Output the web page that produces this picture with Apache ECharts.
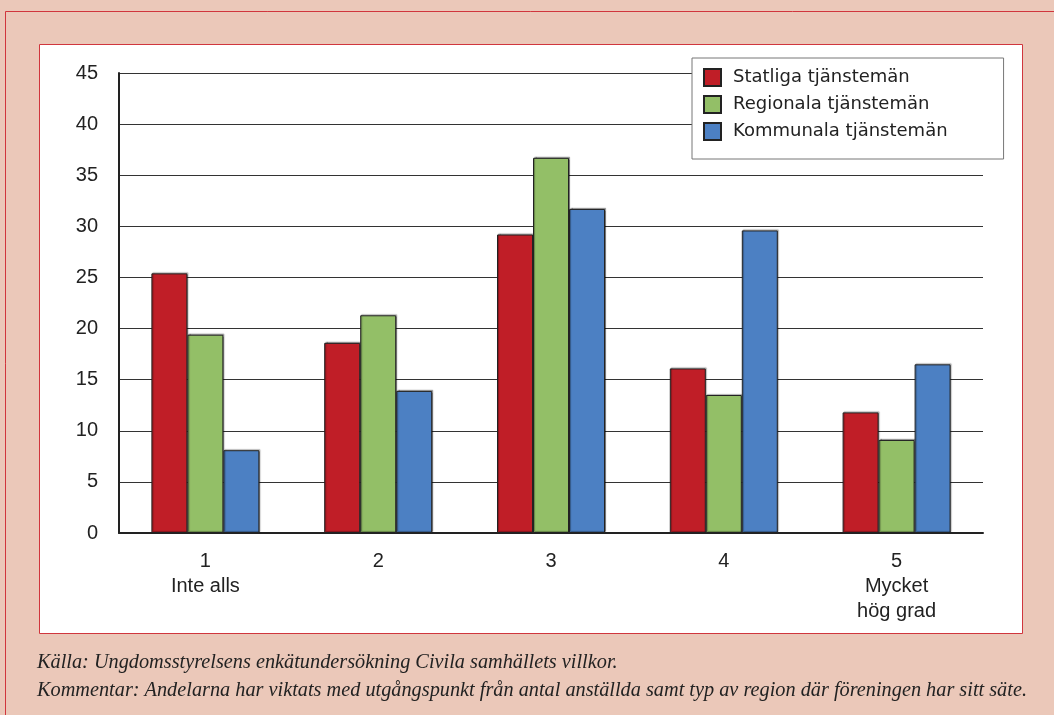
<!DOCTYPE html>
<html><head><meta charset="utf-8">
<script src="https://cdn.jsdelivr.net/npm/echarts@6/dist/echarts.min.js"></script>
<style>html,body{margin:0;padding:0;background:#ebc8b9;}#c{width:1054px;height:715px;}</style>
</head><body><div id="c"></div>
<script>
const categories = ['1\nInte alls', '2', '3', '4', '5\nMycket\nhög grad'];
const seriesNames = ['Statliga tjänstemän', 'Regionala tjänstemän', 'Kommunala tjänstemän'];
const statliga = [25.4, 18.6, 29.2, 16.1, 11.8];
const regionala = [19.4, 21.3, 36.7, 13.5, 9.1];
const kommunala = [8.1, 13.9, 31.7, 29.6, 16.5];
const yTicks = { min: 0, max: 45, interval: 5 };
const footer1 = 'Källa: Ungdomsstyrelsens enkätundersökning Civila samhällets villkor.';
const footer2 = 'Kommentar: Andelarna har viktats med utgångspunkt från antal anställda samt typ av region där föreningen har sitt säte.';

const colors = ['#c01e27', '#93bf67', '#4c80c3'];
const chart = echarts.init(document.getElementById('c'), null, {renderer: 'canvas'});
const mk = (name, data, color) => ({
  name, type: 'bar', data, barGap: '0%', barCategoryGap: '37.5%',
  itemStyle: { color, borderColor: '#222', borderWidth: 1, shadowColor: 'rgba(0,0,0,0.35)', shadowOffsetX: 1, shadowOffsetY: -1, shadowBlur: 1 }
});
chart.setOption({
  animation: false,
  backgroundColor: '#ebc8b9',
  graphic: [
    { type: 'rect', z: -10, shape: { x: 5.5, y: 11.5, width: 1060, height: 720 }, style: { fill: '#ebc8b9', stroke: '#d0363d', lineWidth: 1 } },
    { type: 'rect', z: -9, shape: { x: 39.5, y: 44.5, width: 983, height: 589 }, style: { fill: '#ffffff', stroke: '#d0363d', lineWidth: 1 } },
    { type: 'text', left: 37, top: 653, style: { text: footer1, font: 'italic 20.3px "Liberation Serif"', fill: '#222' } },
    { type: 'text', left: 37, top: 681, style: { text: footer2, font: 'italic 20.3px "Liberation Serif"', fill: '#222' } }
  ],
  legend: {
    orient: 'vertical', left: 692, top: 58,
    data: seriesNames,
    icon: 'rect',
    itemWidth: 17, itemHeight: 17, itemGap: 8,
    padding: [10, 56, 18, 11],
    backgroundColor: '#fff', borderColor: '#777', borderWidth: 1,
    textStyle: { fontFamily: 'DejaVu Sans', fontSize: 18, lineHeight: 17, color: '#222', padding: [0, 0, 0, 7] }
  },
  grid: { left: 119, right: 71, top: 73, bottom: 182 },
  xAxis: {
    type: 'category', data: categories,
    axisLine: { lineStyle: { color: '#222', width: 2 } },
    axisTick: { show: false },
    axisLabel: { fontFamily: 'Liberation Sans', fontSize: 20, color: '#222', lineHeight: 25, margin: 16, interval: 0 }
  },
  yAxis: {
    type: 'value', min: yTicks.min, max: yTicks.max, interval: yTicks.interval,
    axisLine: { show: true, lineStyle: { color: '#222', width: 2 } },
    axisTick: { show: false },
    splitLine: { lineStyle: { color: '#333', width: 1 } },
    axisLabel: { fontFamily: 'Liberation Sans', fontSize: 20, color: '#222', margin: 21 }
  },
  series: [mk(seriesNames[0], statliga, colors[0]), mk(seriesNames[1], regionala, colors[1]), mk(seriesNames[2], kommunala, colors[2])]
});
</script></body></html>
